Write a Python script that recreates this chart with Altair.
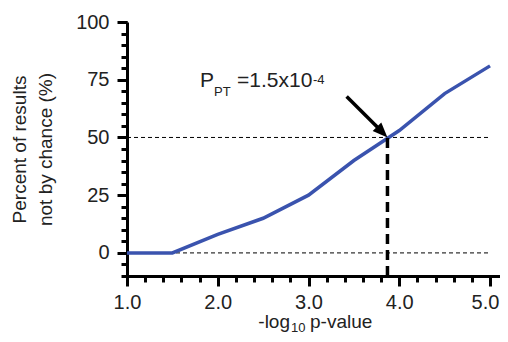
import altair as alt
import pandas as pd

# ---- data ----
x_vals = [1.0, 1.5, 2.0, 2.5, 3.0, 3.5, 4.0, 4.5, 5.0]
pct_vals = [0, 0, 8, 15, 25, 40, 53, 69, 81]
ref_levels = [0, 50]
threshold_x = 3.87
threshold_y = 50
arrow_tail = [3.42, 67.7]
arrow_shaft_end = [3.81, 52.5]
x_major = [1.0, 2.0, 3.0, 4.0, 5.0]
x_minor = [1.0, 1.2, 1.4, 1.6, 1.8, 2.0, 2.2, 2.4, 2.6, 2.8, 3.0,
           3.2, 3.4, 3.6, 3.8, 4.0, 4.2, 4.4, 4.6, 4.8, 5.0]
y_major = [0, 25, 50, 75, 100]
y_minor = list(range(-10, 101, 5))
y_title = ["Percent of results", "not by chance (%)"]

FONT = "Liberation Sans"
TXT = "#222222"

x_dom = [1, 5.11]
y_dom = [-10, 100]

line_df = pd.DataFrame({"x": x_vals, "y": pct_vals})
ref_df = pd.DataFrame({"y": ref_levels, "x1": [1.0] * len(ref_levels), "x2": [5.0] * len(ref_levels)})
thr_df = pd.DataFrame({"x": [threshold_x], "y1": [-10], "y2": [threshold_y]})
shaft_df = pd.DataFrame({"x": [arrow_tail[0]], "y": [arrow_tail[1]],
                         "x2": [arrow_shaft_end[0]], "y2": [arrow_shaft_end[1]]})
head_df = pd.DataFrame({"x": [threshold_x], "y": [threshold_y]})
one = pd.DataFrame({"a": [0]})

common = dict(grid=False, tickWidth=3, tickColor="black", domainWidth=3, domainColor="black",
              labelFont=FONT, labelFontSize=20, labelColor=TXT,
              labelFlush=False, labelOverlap=False)

x_major_axis = alt.Axis(values=x_major, title=None, orient="bottom", format=".1f",
                        tickSize=10, labelPadding=6,
                        labelOffset={"condition": {"test": "datum.value >= 4.99", "value": -5},
                                     "value": 0},
                        **common)
y_major_axis = alt.Axis(values=y_major, title=y_title, orient="left", format="d",
                        tickSize=10, labelPadding=8,
                        titleFont=FONT, titleFontSize=19, titleFontWeight="normal",
                        titleColor=TXT, titleLineHeight=26, titlePadding=20, **common)
x_minor_axis = alt.Axis(values=x_minor, title=None, orient="bottom", labels=False,
                        domain=False, grid=False, tickSize=6, tickWidth=3, tickColor="black")
y_minor_axis = alt.Axis(values=y_minor, title=None, orient="left", labels=False,
                        domain=False, grid=False, tickSize=6, tickWidth=3, tickColor="black")


def X(field, axis=None):
    return alt.X(field, scale=alt.Scale(domain=x_dom, nice=False, zero=False), axis=axis)


def Y(field, axis=None):
    return alt.Y(field, scale=alt.Scale(domain=y_dom, nice=False, zero=False), axis=axis)


refs = alt.Chart(ref_df).mark_rule(color="black", strokeWidth=1, strokeDash=[4, 3]).encode(
    x=X("x1:Q", x_minor_axis), x2="x2:Q", y=Y("y:Q", y_minor_axis),
)

line = alt.Chart(line_df).mark_line(color="#3a53ae", strokeWidth=3.5).encode(
    x=X("x:Q", x_major_axis), y=Y("y:Q", y_major_axis),
)

thr = alt.Chart(thr_df).mark_rule(color="black", strokeWidth=3.5, strokeDash=[10, 6]).encode(
    x=X("x:Q"), y=Y("y1:Q"), y2="y2:Q",
)

shaft = alt.Chart(shaft_df).mark_rule(color="black", strokeWidth=3.5).encode(
    x=X("x:Q"), x2="x2:Q", y=Y("y:Q"), y2="y2:Q",
)

head = alt.Chart(head_df).mark_point(
    shape="M0,0L-0.8,-2L0.8,-2Z", filled=True, size=225, angle=315.7,
    color="black", opacity=1, strokeWidth=0,
).encode(x=X("x:Q"), y=Y("y:Q"))


def txt(text, x, y, size, align="left"):
    return alt.Chart(one).mark_text(
        text=text, font=FONT, fontSize=size, color=TXT, align=align, baseline="alphabetic",
    ).encode(x=alt.value(x), y=alt.value(y))


annot = [
    txt("P", 73, 65, 21),
    txt("PT", 87, 74, 13),
    txt("=1.5x10", 110, 65, 21),
    txt("-4", 186, 62, 13),
    txt("-log", 163, 306, 19, align="right"),
    txt("10", 164, 310, 13),
    txt("p-value", 183, 306, 19),
]

chart = alt.layer(refs, line, thr, shaft, head, *annot).resolve_scale(
    x="independent", y="independent"
).resolve_axis(
    x="independent", y="independent"
).properties(
    width=373, height=254,
    autosize=alt.AutoSizeParams(type="none"),
    padding={"left": 119, "top": 14, "right": 0, "bottom": 58},
).configure(background="white").configure_view(stroke=None)

chart.save("out.html", embed_options={"renderer": "svg", "actions": False})
